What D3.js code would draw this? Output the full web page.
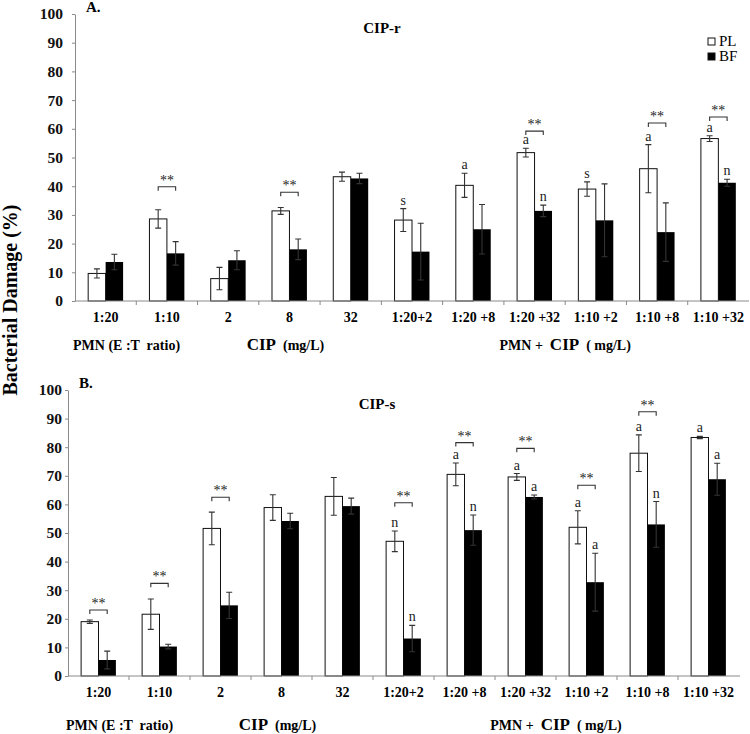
<!DOCTYPE html>
<html>
<head>
<meta charset="utf-8">
<script src="https://cdn.jsdelivr.net/npm/d3@7"></script>
<style>
  body { margin: 0; background: #fff; }
  svg { font-family: "Liberation Serif", "Times New Roman", serif; }
  text { white-space: pre; }
</style>
</head>
<body>
<script>
// categories shared by both panels
var categories = ['1:20', '1:10', '2', '8', '32', '1:20+2', '1:20 +8', '1:20 +32', '1:10 +2', '1:10 +8', '1:10 +32'];
var yTicks = [0, 10, 20, 30, 40, 50, 60, 70, 80, 90, 100];

// panel A: CIP-r
var plA    = [9.6, 28.6, 7.8, 31.4, 43.3, 28.2, 40.3, 51.7, 39.0, 46.1, 56.6];
var plAErr = [1.6, 3.2, 3.9, 1.2, 1.6, 4.0, 4.2, 1.5, 2.5, 8.4, 1.0];
var bfA    = [13.6, 16.6, 14.2, 18.0, 42.7, 17.2, 25.0, 31.4, 28.1, 24.0, 41.2];
var bfAErr = [2.7, 4.1, 3.3, 3.6, 1.8, 9.9, 8.6, 2.0, 12.7, 10.2, 1.2];
var plAMark = ['', '', '', '', '', 's', 'a', 'a', 's', 'a', 'a'];
var bfAMark = ['', '', '', '', '', '', '', 'n', '', '', 'n'];
var sigA = [null, 39.8, null, 37.9, null, null, null, 59.2, null, 62.0, 64.1];

// panel B: CIP-s
var plB    = [19.0, 21.6, 51.6, 58.9, 62.8, 47.1, 70.5, 69.6, 52.0, 77.9, 83.4];
var plBErr = [0.6, 5.3, 5.7, 4.5, 6.6, 3.6, 4.0, 1.2, 5.8, 6.4, 0.4];
var bfB    = [5.6, 10.3, 24.7, 54.2, 59.4, 13.1, 51.0, 62.6, 32.8, 53.0, 68.8];
var bfBErr = [3.1, 0.8, 4.6, 2.7, 2.8, 4.6, 5.3, 0.7, 10.1, 8.0, 5.6];
var plBMark = ['', '', '', '', '', 'n', 'a', 'a', 'a', 'a', 'a'];
var bfBMark = ['', '', '', '', '', 'n', 'n', 'a', 'a', 'n', 'a'];
var sigB = [23.1, 32.4, 62.5, null, null, 60.6, 81.6, 79.6, 66.7, 92.4, null];

var svg = d3.select('body').append('svg')
    .attr('width', 750)
    .attr('height', 734);

// shared y title
svg.append('text')
  .attr('transform', 'translate(17,300) rotate(-90)')
  .attr('text-anchor', 'middle')
  .attr('font-weight', 'bold')
  .attr('font-size', 20)
  .text('Bacterial Damage (%)');

function drawPanel(p) {
  var x = d3.scaleBand()
      .domain(categories)
      .range([p.left, p.right])
      .paddingInner(0.43)
      .paddingOuter(0.215);
  var y = d3.scaleLinear().domain([0, 100]).range([p.bottom, p.top]);
  var bw = x.bandwidth() / 2;
  var g = svg.append('g');

  // y axis
  var yAxis = g.append('g')
      .attr('transform', 'translate(' + p.left + ',0)')
      .call(d3.axisLeft(y).tickValues(yTicks).tickSize(3).tickSizeOuter(0).tickPadding(p.tickPad));
  yAxis.attr('font-family', null);
  yAxis.select('.domain').attr('stroke', '#8a8a8a');
  yAxis.selectAll('.tick line').attr('stroke', '#8a8a8a');
  yAxis.selectAll('.tick text')
    .attr('font-weight', 'bold')
    .attr('font-size', 15.5)
    .attr('fill', '#111');

  // bars
  var rows = categories.map(function(c, i) {
    return { cat: c, pl: p.pl[i], plErr: p.plErr[i], bf: p.bf[i], bfErr: p.bfErr[i],
             plMark: p.plMark[i], bfMark: p.bfMark[i], sig: p.sig[i] };
  });

  var grp = g.selectAll('g.grp').data(rows).enter().append('g').attr('class', 'grp');

  grp.append('rect')
    .attr('x', d => x(d.cat))
    .attr('y', d => y(d.pl))
    .attr('width', bw)
    .attr('height', d => y(0) - y(d.pl))
    .attr('fill', '#fff')
    .attr('stroke', '#111')
    .attr('stroke-width', 1);

  grp.append('rect')
    .attr('x', d => x(d.cat) + bw)
    .attr('y', d => y(d.bf))
    .attr('width', bw)
    .attr('height', d => y(0) - y(d.bf))
    .attr('fill', '#000');

  // error bars
  function errBar(sel, cx, v, e) {
    sel.append('path')
      .attr('d', function(d) {
        var xc = cx(d), t = y(v(d) + e(d)), b = y(v(d) - e(d));
        return 'M' + xc + ',' + t + 'V' + b +
               'M' + (xc - 3) + ',' + t + 'H' + (xc + 3) +
               'M' + (xc - 3) + ',' + b + 'H' + (xc + 3);
      })
      .attr('stroke', '#333')
      .attr('stroke-width', 1.1)
      .attr('fill', 'none');
  }
  errBar(grp, d => x(d.cat) + bw / 2, d => d.pl, d => d.plErr);
  errBar(grp, d => x(d.cat) + bw * 1.5, d => d.bf, d => d.bfErr);

  // significance letters above bars
  grp.filter(d => d.plMark).append('text')
    .attr('x', d => x(d.cat) + bw / 2)
    .attr('y', d => y(d.pl + d.plErr) - 4)
    .attr('text-anchor', 'middle')
    .attr('font-size', 14)
    .attr('fill', '#222')
    .text(d => d.plMark);
  grp.filter(d => d.bfMark).append('text')
    .attr('x', d => x(d.cat) + bw * 1.5)
    .attr('y', d => y(d.bf + d.bfErr) - 4)
    .attr('text-anchor', 'middle')
    .attr('font-size', 14)
    .attr('fill', '#222')
    .text(d => d.bfMark);

  // ** brackets
  var sg = grp.filter(d => d.sig != null);
  sg.append('path')
    .attr('d', function(d) {
      var x1 = x(d.cat) + bw / 2, x2 = x(d.cat) + bw * 1.5, yy = y(d.sig);
      return 'M' + x1 + ',' + (yy + 4) + 'V' + yy + 'H' + x2 + 'V' + (yy + 4);
    })
    .attr('stroke', '#333')
    .attr('stroke-width', 1.1)
    .attr('fill', 'none');
  sg.append('text')
    .attr('x', d => x(d.cat) + bw)
    .attr('y', d => y(d.sig) - 2)
    .attr('text-anchor', 'middle')
    .attr('font-size', 14)
    .attr('fill', '#222')
    .text('**');

  // x axis with ticks between groups
  var xa = g.append('g').attr('transform', 'translate(0,' + p.bottom + ')');
  xa.append('line')
    .attr('x1', p.left).attr('x2', p.right + p.axisExtra)
    .attr('stroke', '#8a8a8a');
  xa.selectAll('line.sep').data(categories.slice(1)).enter().append('line')
    .attr('class', 'sep')
    .attr('x1', d => x(d) - x.step() * 0.215)
    .attr('x2', d => x(d) - x.step() * 0.215)
    .attr('y1', 0).attr('y2', 4)
    .attr('stroke', '#8a8a8a');
  xa.selectAll('text.cat').data(categories).enter().append('text')
    .attr('class', 'cat')
    .attr('x', d => x(d) + x.bandwidth() / 2)
    .attr('y', 21)
    .attr('text-anchor', 'middle')
    .attr('font-weight', 'bold')
    .attr('font-size', 14)
    .text(d => d);

  // group captions
  var gy = p.bottom + p.capOffset;
  g.append('text')
    .attr('x', p.left - 2).attr('y', gy)
    .attr('font-weight', 'bold').attr('font-size', 14)
    .text('PMN (E :T  ratio)');
  var t2 = g.append('text')
    .attr('x', x('8') + x.bandwidth() / 2 - 4).attr('y', gy)
    .attr('text-anchor', 'middle')
    .attr('font-weight', 'bold').attr('font-size', 14);
  t2.append('tspan').attr('font-size', 17).text('CIP');
  t2.append('tspan').text('  (mg/L)');
  var t3 = g.append('text')
    .attr('x', x('1:10 +2') - x.step() * 0.215).attr('y', gy)
    .attr('text-anchor', 'middle')
    .attr('font-weight', 'bold').attr('font-size', 14);
  t3.append('tspan').text('PMN +  ');
  t3.append('tspan').attr('font-size', 17).text('CIP');
  t3.append('tspan').text('  ( mg/L)');

  // panel letter and title
  g.append('text')
    .attr('x', p.left + 11).attr('y', p.top - 2)
    .attr('font-weight', 'bold').attr('font-size', 15)
    .text(p.letter);
  g.append('text')
    .attr('x', p.titleX).attr('y', p.top + 19)
    .attr('text-anchor', 'middle')
    .attr('font-weight', 'bold').attr('font-size', 15)
    .text(p.title);
}

drawPanel({
  left: 75, right: 749, top: 14, bottom: 301, axisExtra: 0, tickPad: 9, capOffset: 49,
  pl: plA, plErr: plAErr, bf: bfA, bfErr: bfAErr, plMark: plAMark, bfMark: bfAMark, sig: sigA,
  letter: 'A.', title: 'CIP-r', titleX: 382
});

drawPanel({
  left: 68, right: 739, top: 390, bottom: 676, axisExtra: 1, tickPad: 3, capOffset: 54,
  pl: plB, plErr: plBErr, bf: bfB, bfErr: bfBErr, plMark: plBMark, bfMark: bfBMark, sig: sigB,
  letter: 'B.', title: 'CIP-s', titleX: 377
});

// legend (panel A)
var legend = [{ name: 'PL', fill: '#fff' }, { name: 'BF', fill: '#000' }];
var lg = svg.append('g').selectAll('g').data(legend).enter().append('g')
  .attr('transform', (d, i) => 'translate(708,' + (38 + i * 15) + ')');
lg.append('rect')
  .attr('width', 7).attr('height', 7)
  .attr('fill', d => d.fill)
  .attr('stroke', '#111');
lg.append('text')
  .attr('x', 11).attr('y', 8)
  .attr('font-size', 15)
  .text(d => d.name);
</script>
</body>
</html>
